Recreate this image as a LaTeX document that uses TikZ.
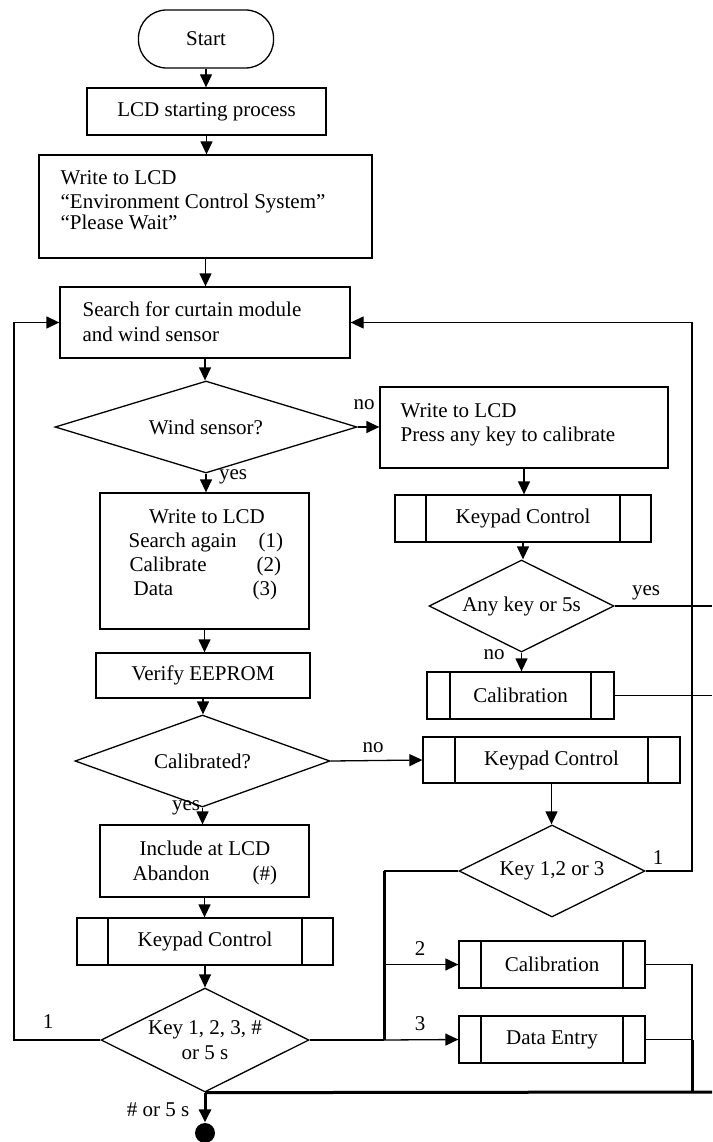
\documentclass[tikz,border=0pt]{standalone}
\usepackage{fontspec}
\setmainfont{Liberation Serif}
\usetikzlibrary{shapes.geometric,arrows.meta,calc}

\tikzset{
  every node/.style={font=\fontsize{21}{24}\selectfont, inner sep=0pt},
  box/.style 2 args={draw, rectangle, line width=1.3pt,
    minimum width=#1, minimum height=#2},
  term/.style 2 args={box={#1}{#2}, rounded corners=28pt},
  sub/.style n args={3}{box={#1}{#2},
    path picture={\draw[line width=1.3pt]
      ([xshift=#3]path picture bounding box.north west) --
      ([xshift=#3]path picture bounding box.south west)
      ([xshift=-#3]path picture bounding box.north east) --
      ([xshift=-#3]path picture bounding box.south east);}},
  dia/.style n args={3}{draw, diamond, line width=1.3pt, aspect=#3,
    minimum width=#1, minimum height=#2},
  lbl/.style={anchor=center},
  txt/.style={anchor=base west},
  bus/.style={line width=3pt},
}

\begin{document}
\begin{tikzpicture}[x=1pt, y=-1pt, line width=1.3pt,
  >={Triangle[length=13pt,width=12pt]}]
\useasboundingbox (0,0) rectangle (712,1142);

% ---- main column ----
\node[term={135}{58}] (start) at (206,39) {Start};
\node[box={239}{47}] (lcd) at (206.5,111.5) {LCD starting process};
\node[box={333}{103}] (write1) at (205.5,206.5) {};
\node[txt] (w1a) at (60,185) {Write to LCD};
\node[txt] (w1b) at (60,208) {“Environment Control System”};
\node[txt] (w1c) at (60,229) {“Please Wait”};

\node[box={290}{71}] (search) at (205,322.5) {};
\node[txt] (s1) at (82,316) {Search for curtain module};
\node[txt] (s2) at (82,341) {and wind sensor};

\node[dia={302}{92}{3.3}] (wind) at (206,427) {Wind sensor?};

\node[box={209}{136}] (write2) at (204.5,561) {};
\node[anchor=base] (w2a) at (207,523.5) {Write to LCD};
\node[txt] (w2b) at (128,547.5) {Search again};
\node[txt] (w2c) at (258,547.5) {(1)};
\node[txt] (w2d) at (129,571.5) {Calibrate};
\node[txt] (w2e) at (256,571.5) {(2)};
\node[txt] (w2f) at (133,595.5) {Data};
\node[txt] (w2g) at (252,595.5) {(3)};

\node[box={214}{45}] (verify) at (203,675.5) {Verify EEPROM};
\node[dia={255}{92}{2.8}] (calib) at (202.5,761) {Calibrated?};

\node[box={209}{72}] (include) at (204.5,861) {};
\node[anchor=base] (i1) at (205,855) {Include at LCD};
\node[txt] (i2) at (132,880) {Abandon};
\node[txt] (i3) at (252,880) {(\#)};

\node[sub={256}{47}{31pt}] (kp3) at (205,941.5) {Keypad Control};
\node[dia={208}{104}{2}, align=center,
  font=\fontsize{21}{25}\selectfont] (keyall) at (205,1040)
  {Key 1, 2, 3, \#\\or 5 s};
\node[circle, fill, minimum size=20pt] (stop) at (205,1133) {};

% ---- right column ----
\node[box={288}{81}] (press) at (524,427.5) {};
\node[txt] (p1) at (400,417) {Write to LCD};
\node[txt] (p2) at (400,441) {Press any key to calibrate};

\node[sub={256}{47}{31pt}] (kp1) at (523,518.5) {Keypad Control};
\node[dia={185}{92}{2}] (anykey) at (521.5,606) {Any key or 5s};
\node[sub={187}{47}{23pt}] (cal1) at (520.5,695.5) {Calibration};

\node[sub={257}{46}{32pt}] (kp2) at (551.5,760) {Keypad Control};
\node[dia={186}{92}{2}] (key123) at (552,871) {Key 1,2 or 3};
\node[sub={186}{47}{22pt}] (cal2) at (552,964.5) {Calibration};
\node[sub={186}{47}{22pt}] (data) at (552,1039.5) {Data Entry};

% ---- bend and exit points ----
\coordinate (rloop) at (692,871);
\coordinate (lloop) at (14,1040);
\coordinate (busTop) at (384,871);
\coordinate (busBot) at (384,1040);
\coordinate (rbus) at (692,1092);
\coordinate (edgeR) at (712,1092);
\coordinate (outA) at (712,606);
\coordinate (outB) at (712,695.5);

% ---- connectors ----
\draw[->] (start.south) -- (start.south |- lcd.north);
\draw[->] (lcd.south) -- (lcd.south |- write1.north);
\draw[->] (write1.south) -- (write1.south |- search.north);
\draw[->] (search.south) -- (search.south |- wind.north);
\draw[->] (wind.east) -- (wind.east -| press.west);
\draw[->] (wind.south) -- (wind.south |- write2.north);
\draw[->] (write2.south) -- (write2.south |- verify.north);
\draw[->] (verify.south) -- (verify.south |- calib.north);
\draw[->] (calib.east) -- (kp2.west);
\draw[->] (calib.south) -- (calib.south |- include.north);
\draw[->] (include.south) -- (include.south |- kp3.north);
\draw[->] (kp3.south) -- (kp3.south |- keyall.north);

\draw[->] (press.south) -- (press.south |- kp1.north);
\draw[->] (kp1.south) -- (kp1.south |- anykey.north);
\draw (anykey.east) -- (outA);
\draw[->] (anykey.south) -- (anykey.south |- cal1.north);
\draw (cal1.east) -- (outB);
\draw[->] (kp2.south) -- (kp2.south |- key123.north);

% loop back to the search step
\draw[->] (key123.east) -- (rloop) |- (search.east);
\draw[->] (keyall.west) -- (lloop) |- (search.west);

% key dispatch bus
\draw (key123.west) -- (busTop);
\draw[bus] (busTop) -- (busBot);
\draw (keyall.east) -- (busBot);
\draw[->] (busTop |- cal2.west) -- (cal2.west);
\draw[->] (busBot) -- (data.west);

% return bus
\draw (cal2.east) -| (data.east -| rbus);
\draw (data.east) -- (data.east -| rbus);
\draw[bus] (data.east -| rbus) -- (rbus);
\draw[bus] (keyall.south) -- (edgeR);
\draw[bus, ->] (keyall.south) -- (stop.north);

% ---- branch labels ----
\node[lbl] (lno1) at (364,405) {no};
\node[lbl] (lyes1) at (233,477) {yes};
\node[lbl] (lyes2) at (646,593) {yes};
\node[lbl] (lno2) at (494,655) {no};
\node[lbl] (lno3) at (373,748) {no};
\node[lbl] (lyes3) at (186,808) {yes};
\node[lbl] (l1a) at (658,858) {1};
\node[lbl] (l2) at (420,949) {2};
\node[lbl] (l3) at (420,1024) {3};
\node[lbl] (l1b) at (48,1022) {1};
\node[lbl] (lend) at (158,1110) {\# or 5 s};
\end{tikzpicture}
\end{document}
